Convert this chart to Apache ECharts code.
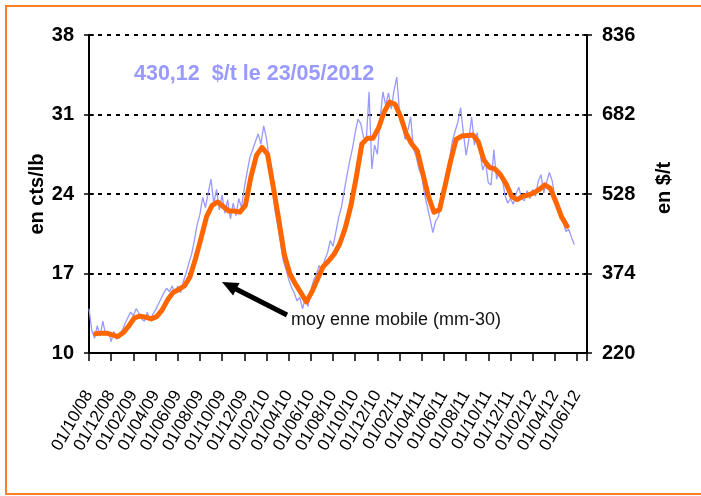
<!DOCTYPE html>
<html>
<head>
<meta charset="utf-8">
<script src="https://cdn.jsdelivr.net/npm/echarts@6/dist/echarts.min.js"></script>
<style>
html,body{margin:0;padding:0;background:#fff;}
#chart{width:701px;height:496px;}
</style>
</head>
<body>
<div id="chart"></div>
<script>
// Category (tick) labels, one every 2 months starting 01/10/08
var dateLabels = ['01/10/08','01/12/08','01/02/09','01/04/09','01/06/09','01/08/09','01/10/09','01/12/09',
  '01/02/10','01/04/10','01/06/10','01/08/10','01/10/10','01/12/10','01/02/11','01/04/11','01/06/11',
  '01/08/11','01/10/11','01/12/11','01/02/12','01/04/12','01/06/12'];
var leftTicks = [10, 17, 24, 31, 38];
var rightTicks = [220, 374, 528, 682, 836];

// Daily price (sampled about weekly, every quarter month from 01/10/08), cts/lb
var priceStep = 0.25;
var price = [13.9,12.0,11.3,12.4,11.5,12.8,11.6,11.9,11.0,11.9,11.2,11.7,12.0,12.6,13.1,13.6,
  13.3,13.9,13.5,13.0,12.8,13.6,12.9,13.4,13.8,14.3,14.8,15.3,15.7,15.4,15.9,15.2,
  15.9,15.3,16.3,17.0,17.9,18.7,19.9,21.3,22.2,23.7,22.8,24.1,25.3,23.2,24.4,22.6,
  23.9,22.3,23.5,21.8,23.2,22.1,23.6,22.8,24.5,25.9,27.2,27.9,28.6,29.3,28.4,30.0,
  28.9,27.1,25.2,22.7,21.3,19.8,18.2,17.4,16.5,15.8,15.3,14.6,14.9,13.9,14.8,14.1,
  15.5,16.4,16.9,17.7,17.3,18.2,18.8,19.9,19.4,20.6,21.9,22.8,24.2,25.6,26.9,28.0,
  29.4,30.6,30.2,29.0,28.7,33.0,26.2,28.3,27.5,30.6,33.0,31.8,32.9,31.5,33.1,34.3,
  31.2,30.5,28.8,29.6,30.8,28.0,27.3,26.2,25.6,24.0,22.9,21.8,20.6,21.6,22.0,23.1,
  23.9,24.9,27.0,28.6,29.5,30.3,31.6,29.4,27.4,28.8,30.8,28.3,29.4,27.7,26.1,26.8,
  25.0,24.8,27.9,25.3,26.1,25.5,23.9,23.2,23.6,23.1,24.0,24.6,23.6,23.4,24.3,23.6,
  24.4,23.8,25.1,25.7,24.1,25.0,25.9,25.2,23.8,22.9,22.4,21.6,20.7,20.9,20.2,19.55];

// 30-day moving average, sampled every half month starting at month 0.6
var maStart = 0.6, maStep = 0.5;
var movingAvg = [11.7,11.75,11.75,11.6,11.45,11.8,12.4,13.1,13.25,13.15,13.0,13.2,13.8,14.7,15.35,15.6,
  15.9,16.7,18.3,20.1,22.0,23.0,23.3,22.9,22.5,22.5,22.4,23.0,25.5,27.4,28.1,27.5,
  24.7,21.8,18.7,17.0,16.1,15.3,14.5,15.4,16.5,17.6,18.1,18.7,19.6,21.0,22.9,25.5,
  28.4,28.9,28.9,29.8,31.2,32.1,31.9,30.8,29.3,28.4,27.8,25.8,23.8,22.4,22.6,24.7,
  26.9,28.8,29.1,29.15,29.2,28.6,27.0,26.35,26.2,25.7,24.9,23.8,23.5,23.8,23.9,24.1,
  24.4,24.8,24.5,23.3,22.0,21.15];

var priceData = price.map(function(v,i){ return [i*priceStep, v]; });
var maData = movingAvg.map(function(v,i){ return [maStart + i*maStep, v]; });

var FONT = 'Liberation Sans, Arial, sans-serif';
var chart = echarts.init(document.getElementById('chart'), null, {renderer:'canvas'});

function yTickLabels(arr){
  return function(v){ var idx = leftTicks.indexOf(Math.round(v)); return idx >= 0 ? String(arr[idx]) : ''; };
}

var baseY = {type:'value', min:10, max:38, interval:7};

chart.setOption({
  animation:false,
  backgroundColor:'#fff',
  grid:{left:89, right:114, top:35, bottom:143, containLabel:false},
  xAxis:{
    type:'value', min:0, max:44.9, interval:2,
    axisLine:{show:true, lineStyle:{color:'#000', width:2}},
    axisTick:{show:true, length:8, lineStyle:{color:'#000', width:1.5}},
    splitLine:{show:false},
    axisLabel:{
      rotate:60, margin:39, color:'#000', fontFamily:FONT, fontSize:17,
      showMaxLabel:true,
      formatter:function(v){ var k = v/2; return (Math.abs(k-Math.round(k))<1e-6 && dateLabels[Math.round(k)]) ? dateLabels[Math.round(k)] : ''; }
    }
  },
  yAxis:[
    Object.assign({}, baseY, {
      position:'left',
      axisLine:{show:true, lineStyle:{color:'#000', width:2}},
      axisTick:{show:true, length:5, lineStyle:{color:'#000', width:1.5}},
      splitLine:{show:true, lineStyle:{color:'#000', width:2, type:[4,5]}},
      axisLabel:{margin:15, color:'#000', fontFamily:FONT, fontSize:20, fontWeight:'bold', formatter:yTickLabels(leftTicks)}
    }),
    Object.assign({}, baseY, {
      position:'right',
      axisLine:{show:true, lineStyle:{color:'#000', width:2}},
      axisTick:{show:true, length:5, lineStyle:{color:'#000', width:1.5}},
      splitLine:{show:false},
      axisLabel:{margin:15, color:'#000', fontFamily:FONT, fontSize:20, fontWeight:'bold', formatter:yTickLabels(rightTicks)}
    }),
    Object.assign({}, baseY, {
      position:'left', axisLine:{show:false}, splitLine:{show:false}, axisLabel:{show:false},
      axisTick:{show:true, inside:true, length:5, lineStyle:{color:'#000', width:1.5}}
    }),
    Object.assign({}, baseY, {
      position:'right', axisLine:{show:false}, splitLine:{show:false}, axisLabel:{show:false},
      axisTick:{show:true, inside:true, length:5, lineStyle:{color:'#000', width:1.5}}
    })
  ],
  series:[
    {type:'line', name:'cours', data:priceData, showSymbol:false, symbol:'none',
     lineStyle:{color:'#9999FF', width:1.3}, z:3},
    {type:'line', name:'moyenne mobile (mm-30)', data:maData, showSymbol:false, symbol:'none',
     lineStyle:{color:'#FF6600', width:5, join:'round', cap:'round'}, z:4}
  ],
  graphic:[
    {type:'polyline', shape:{points:[[701,6],[6,6],[6,494],[701,494]]}, style:{stroke:'#FF7F27', lineWidth:2, fill:null}, silent:true, z:0},
    {type:'text', left:134, top:63, style:{text:'430,12  $/t le 23/05/2012', fill:'#9999FF', font:'bold 21.5px '+FONT}, z:10},
    {type:'text', x:37, y:194, rotation:Math.PI/2, style:{text:'en cts/lb', fill:'#000', font:'bold 20px '+FONT, align:'center', verticalAlign:'middle'}, z:10},
    {type:'text', x:664, y:188, rotation:Math.PI/2, style:{text:'en $/t', fill:'#000', font:'bold 20px '+FONT, align:'center', verticalAlign:'middle'}, z:10},
    {type:'line', shape:{x1:287, y1:315, x2:234, y2:288}, style:{stroke:'#000', lineWidth:5}, z:10},
    {type:'polygon', shape:{points:[[222,282],[239.5,283],[233.1,295.4]]}, style:{fill:'#000'}, z:10},
    {type:'text', left:291, top:311, style:{text:'moy enne mobile (mm-30)', fill:'#111', font:'18px '+FONT}, z:10}
  ]
});
</script>
</body>
</html>
